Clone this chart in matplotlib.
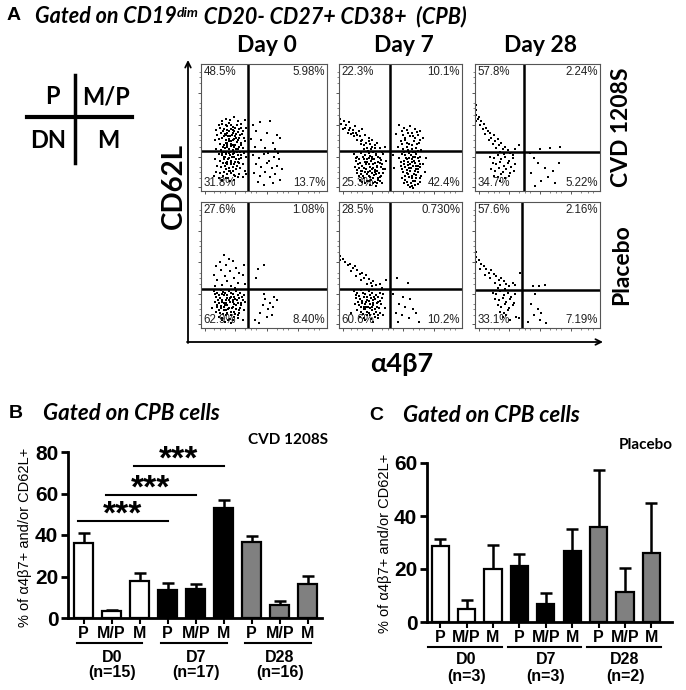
import matplotlib.pyplot as plt
import matplotlib.transforms as mtransforms
import numpy as np

# ---- data ----
# flow cytometry dots, % of panel width / height
day0_cvd = [(14,52),(17,55),(20,57),(23,56),(26,58),(29,55),(32,53),(35,56),
    (12,48),(15,50),(18,49),(21,51),(24,52),(27,50),(30,49),(33,47),(36,50),
    (13,44),(16,46),(19,45),(22,47),(25,46),(28,45),(31,44),(34,42),
    (11,40),(14,41),(17,42),(20,40),(23,43),(26,41),(29,40),(32,38),(35,39),
    (15,37),(18,36),(21,38),(24,37),(27,36),(30,35),(33,34),
    (12,33),(16,32),(19,34),(22,33),(25,32),(28,33),(31,31),(34,30),
    (14,29),(17,28),(20,29),(23,28),(26,27),(29,28),(32,26),(36,27),
    (11,25),(15,24),(18,25),(21,23),(24,24),(27,23),(30,22),(33,21),
    (13,20),(16,19),(19,20),(22,18),(25,19),(28,17),(31,18),(35,16),
    (12,15),(15,14),(18,15),(21,13),(24,14),(27,12),(30,13),(33,11),
    (14,10),(17,9),(20,10),(23,8),(26,9),(29,11),(10,12),(36,13),
    (20,44),(22,41),(24,39),(21,35),(23,31),(25,36),(19,27),(22,26),(24,21),
    (26,30),(20,22),(23,16),(18,31),(27,43),(25,48),(21,46),
    (16.5,53),(19.5,52),(22.5,53.5),(25.5,50.5),(28.5,52),(31.5,50),
    (17.5,47.5),(20.5,48),(23.5,49),(26.5,47.5),(29.5,46.5),(32.5,45),
    (18.5,43),(21.5,43.5),(24.5,44),(27.5,42),(30.5,41.5),(19.5,38),
    (22.5,39.5),(25.5,40.5),(28.5,38.5),(31.5,36.5),(17.5,35),(20.5,36.5),
    (23.5,35.5),(26.5,34.5),(29.5,33),(16.5,30),(19.5,31),(22.5,30),
    (25.5,29),(28.5,30.5),(31.5,28),(18.5,26.5),(21.5,25.5),(24.5,27),
    (27.5,25.5),(30.5,25),(17.5,22),(20.5,21),(23.5,22.5),(26.5,21.5),
    (29.5,23),(19.5,17),(22.5,15.5),(25.5,16),(28.5,19.5),(17.5,12),
    (21.5,10.5),(26.5,12.5),
    (41,52),(47,54),(55,55),(44,47),(52,46),(60,44),(40,41),(48,40),(57,38),
    (63,42),(43,35),(51,34),(59,33),(41,28),(46,26),(50,29),(54,24),(58,27),
    (62,25),(44,21),(48,19),(52,22),(56,18),(60,20),(64,17),(42,14),(47,12),
    (51,15),(55,11),(59,13),(63,9),(45,7),(50,5),(57,6),(53,30),(61,30)]
day7_cvd = [(1,57),(2,53),(4,55),(6,52),(3,49),(8,54),(9,50),(11,48),(7,46),
    (13,51),(14,46),(12,43),(16,47),(17,43),(19,49),(15,40),(19,40),(21,44),
    (22,38),(24,42),(20,36),(25,37),(27,40),(23,34),(26,33),(29,36),(31,38),
    (28,31),(33,34),(30,29),(35,31),(37,35),(18,37),(10,45),(5,50),
    (12,29),(15,27),(18,30),(21,28),(24,30),(27,27),(30,28),(33,26),(36,29),
    (14,24),(17,22),(20,25),(23,23),(26,24),(29,22),(32,23),(35,21),(38,24),
    (13,19),(16,18),(19,20),(22,17),(25,19),(28,18),(31,16),(34,19),(37,17),
    (15,14),(18,13),(21,15),(24,12),(27,14),(30,13),(33,11),(36,14),
    (17,9),(20,10),(23,8),(26,9),(29,7),(32,9),(35,6),(25,5),(30,4),
    (22,21),(25,16),(28,10),(31,20),(27,25),(24,26),(19,16),(29,15),
    (13.5,26),(16.5,25.5),(19.5,27),(22.5,25),(25.5,27.5),(28.5,25),
    (31.5,27),(34.5,24.5),(15.5,21),(18.5,19.5),(21.5,22.5),(24.5,21),
    (27.5,21.5),(30.5,19),(33.5,22),(14.5,16.5),(17.5,16),(20.5,18),
    (23.5,15),(26.5,17),(29.5,16.5),(32.5,14.5),(35.5,17.5),(16.5,11.5),
    (19.5,12),(22.5,13.5),(25.5,11),(28.5,12.5),(31.5,10.5),(34.5,12),
    (18.5,7),(21.5,6.5),(24.5,8),(27.5,6),(30.5,6.5),(33.5,8),(20.5,33),
    (23.5,31.5),(26.5,35),(29.5,33.5),(17.5,39),(14.5,44),(11.5,46),
    (8.5,48),(24.5,39.5),
    (49,52),(53,50),(58,51),(62,49),(66,47),(46,45),(52,44),(56,46),(60,43),
    (64,44),(68,42),(50,39),(54,40),(57,37),(61,39),(65,38),(48,35),(52,33),
    (55,35),(59,33),(63,34),(67,32),(51,29),(54,28),(57,30),(60,27),(63,29),
    (66,27),(49,26),(53,24),(56,23),(59,25),(62,22),(65,24),(68,21),
    (50,20),(54,19),(57,18),(60,20),(63,17),(66,19),(52,15),(55,14),(58,16),
    (61,13),(64,15),(67,12),(51,10),(54,9),(57,11),(60,8),(63,10),(66,7),
    (56,5),(59,4),(62,5),(45,18),(70,15),(44,28),(71,26),
    (58,21),(61,24),(55,25),(64,20),(59,12),(57,26),(62,31),
    (51.5,47),(55.5,48),(59.5,45.5),(63.5,46.5),(53.5,42),(57.5,43),
    (61.5,41.5),(65.5,40.5),(51.5,37),(55.5,38),(59.5,36),(63.5,37),
    (52.5,31),(56.5,32.5),(60.5,31),(64.5,31.5),(50.5,23),(54.5,26),
    (58.5,28),(61.5,27),(64.5,26),(52.5,21.5),(56.5,20.5),(59.5,22.5),
    (62.5,19.5),(65.5,21.5),(51.5,17),(55.5,16.5),(58.5,18.5),(61.5,16),
    (64.5,17.5),(53.5,12),(56.5,13),(59.5,10),(62.5,12.5),(65.5,10),
    (52.5,6.5),(55.5,7),(58.5,6),(61.5,7.5),(64.5,5.5),(57.5,3),(60.5,2.5)]
day28_cvd = [(0.5,68),(1,64),(1,60),(2,57),(0.5,55),(3,58),(5,55),(4,52),(7,53),
    (6,49),(9,50),(10,47),(8,45),(12,46),(13,42),(15,44),(11,40),(16,39),
    (18,41),(14,37),(19,36),(21,38),(17,34),(22,33),(24,35),(20,31),(26,32),
    (28,30),(23,29),(32,33),(35,36),(30,28),
    (12,27),(15,26),(18,28),(21,25),(24,27),(27,24),(30,26),(14,22),(17,21),
    (20,23),(23,20),(26,22),(29,19),(32,21),(13,17),(16,16),(19,18),(22,15),
    (25,17),(28,14),(31,16),(15,12),(18,11),(21,13),(24,10),(27,12),(20,8),
    (52,33),(60,34),(68,35),(44,30),(47,26),(50,22),(56,18),(62,16),(45,14),
    (58,11),(53,8),(64,6),(48,4),(67,22)]
day0_pla = [(18,58),(22,55),(15,52),(25,53),(12,49),(20,50),(28,48),(34,50),
    (16,46),(23,45),(30,44),(10,42),(19,41),(26,40),(33,42),(13,38),(21,37),
    (29,36),(17,34),(24,33),(35,35),(11,33),(27,32),
    (10,29),(13,28),(16,30),(19,28),(22,29),(25,27),(28,29),(31,28),(34,26),
    (12,25),(15,24),(18,26),(21,24),(24,25),(27,23),(30,24),(33,22),
    (11,21),(14,20),(17,22),(20,20),(23,21),(26,19),(29,20),(32,18),(35,21),
    (13,17),(16,16),(19,18),(22,16),(25,17),(28,15),(31,16),(34,14),
    (12,13),(15,12),(18,14),(21,12),(24,13),(27,11),(30,12),(9,16),
    (14,9),(17,8),(20,10),(23,7),(26,9),(29,8),(19,5),(24,4),(33,6),
    (18,20),(21,18),(23,24),(20,14),(25,22),(17,27),
    (11.5,27),(14.5,26),(17.5,28.5),(20.5,26),(23.5,27.5),(26.5,25),
    (29.5,26.5),(32.5,24.5),(13.5,22.5),(16.5,21),(19.5,22.5),(22.5,22),
    (25.5,20.5),(28.5,22),(31.5,20),(12.5,18.5),(15.5,17.5),(18.5,16.5),
    (21.5,15),(24.5,15.5),(27.5,18),(30.5,14),(14.5,14.5),(17.5,11),
    (20.5,11.5),(23.5,10),(26.5,13),(29.5,10.5),(16.5,6.5),(21.5,6),(25.5,6.5),
    (45,47),(50,50),(44,40),(58,25),(51,23),(55,20),(49,18),(53,15),(57,17),
    (47,12),(52,9),(56,10),(43,6),(60,22),(50,27),(46,4)]
day7_pla = [(0.5,57),(1,54),(3,55),(5,52),(7,50),(9,51),(11,48),(13,49),(10,45),
    (15,46),(17,43),(14,41),(19,44),(20,40),(22,42),(18,38),(24,39),(26,36),
    (23,35),(28,37),(30,34),(27,33),(33,35),(35,32),(38,38),
    (12,29),(15,28),(18,30),(21,27),(24,29),(27,28),(30,26),(33,28),(36,27),
    (14,24),(17,23),(20,25),(23,22),(26,24),(29,23),(32,21),(35,24),
    (13,19),(16,18),(19,20),(22,17),(25,19),(28,18),(31,17),(34,19),(37,16),
    (15,14),(18,13),(21,15),(24,12),(27,14),(30,13),(33,12),
    (17,9),(20,8),(23,10),(26,7),(29,9),(32,8),(10,12),(36,10),
    (22,21),(25,16),(28,22),(20,17),
    (13.5,26.5),(16.5,25.5),(19.5,27.5),(22.5,25),(25.5,26.5),(28.5,25),
    (31.5,24.5),(15.5,21),(18.5,21.5),(21.5,19),(24.5,21.5),(27.5,20),
    (30.5,19.5),(33.5,21.5),(17.5,16.5),(20.5,15),(23.5,17),(26.5,16.5),
    (29.5,15),(32.5,16),(19.5,11),(22.5,12.5),(25.5,10.5),(28.5,11),
    (31.5,10),(21.5,6),(27.5,5),
    (47,40),(56,36),(44,27),(52,25),(58,23),(49,19),(54,17),(60,15),(46,12),
    (51,10),(57,8),(63,12),(48,5),(65,5)]
day28_pla = [(0.5,60),(0.5,56),(1,52),(3,54),(5,51),(7,49),(4,47),(9,47),(11,44),
    (8,42),(13,46),(15,43),(12,40),(17,41),(19,38),(16,36),(21,40),(23,37),
    (20,34),(25,35),(27,33),(18,32),(24,31),(30,36),(32,34),(36,44),
    (14,28),(17,27),(20,29),(23,26),(26,28),(29,25),(32,27),(16,23),(19,22),
    (22,24),(25,21),(28,23),(31,20),(18,18),(21,17),(24,19),(27,16),(30,18),
    (20,13),(23,12),(26,14),(22,9),(25,10),(33,9),(28,6),(35,8),
    (46,33),(51,33),(56,34),(48,27),(45,19),(50,15),(53,12),(47,10),(52,6),
    (42,5),(57,4)]
flow_dots = [[day0_cvd, day7_cvd, day28_cvd], [day0_pla, day7_pla, day28_pla]]

gate_x = [[37.5, 41.5, 38.8], [37.5, 41.5, 37.5]]
gate_y = [[31.5, 31.5, 30.5], [31.0, 31.0, 30.0]]
pct_tl = [['48.5%', '22.3%', '57.8%'], ['27.6%', '28.5%', '57.6%']]
pct_tr = [['5.98%', '10.1%', '2.24%'], ['1.08%', '0.730%', '2.16%']]
pct_bl = [['31.8%', '25.3%', '34.7%'], ['62.9%', '60.6%', '33.1%']]
pct_br = [['13.7%', '42.4%', '5.22%'], ['8.40%', '10.2%', '7.19%']]
days = ['Day 0', 'Day 7', 'Day 28']
groups = ['CVD 1208S', 'Placebo']

# bar charts
subsets = ['P', 'M/P', 'M']
vax_days = ['D0', 'D7', 'D28']
vax_n = ['(n=15)', '(n=17)', '(n=16)']
vax_mean = [36.3, 3.2, 17.6, 13.6, 14.2, 53.2, 36.5, 6.3, 16.6]
vax_err = [4.5, 0.8, 4.0, 3.3, 2.4, 3.6, 3.2, 2.1, 3.8]
vax_sig = [(0, 3, 46.6), (1, 4, 59.1), (2, 5, 73.1)]
pla_n = ['(n=3)', '(n=3)', '(n=2)']
pla_mean = [28.5, 4.9, 20.1, 21.3, 6.8, 26.8, 35.7, 11.2, 25.9]
pla_err = [2.8, 3.5, 9.0, 4.2, 4.1, 8.3, 21.8, 9.3, 19.0]

W, H = 686, 690
CAL = ['Lato', 'Open Sans', 'DejaVu Sans']
ARI = ['Liberation Sans', 'DejaVu Sans']

fig = plt.figure(figsize=(W / 100, H / 100), dpi=100)
bg = fig.add_axes([0, 0, 1, 1])
bg.set_xlim(0, W)
bg.set_ylim(H, 0)
bg.axis('off')


def rect(x0, y0, x1, y1):
    return [x0 / W, 1 - y1 / H, (x1 - x0) / W, (y1 - y0) / H]


# ---- panel A ----
bg.text(7, 16, 'A', fontsize=14, fontweight='bold', family=ARI, va='center')
t1 = bg.text(35, 23, 'Gated on CD19', fontsize=15.5, fontweight='bold',
             style='italic', family=CAL, va='baseline')
t2 = bg.annotate('dim', xy=(1.0, 0.95), xycoords=t1, fontsize=10,
                 fontweight='bold', style='italic', family=CAL,
                 ha='left', va='top')
t3 = bg.annotate(' CD20- CD27+ CD38+  (CPB)', xy=(1.0, 0), xycoords=(t2, t1),
                 fontsize=15.5, fontweight='bold', style='italic', family=CAL,
                 ha='left', va='bottom')

# quadrant key
bg.plot([27, 132], [117, 117], color='black', lw=3)
bg.plot([75, 75], [75, 163], color='black', lw=2.5)
for s, (x, y) in zip(['P', 'M/P', 'DN', 'M'], [(52, 97), (106, 97), (48, 141), (108, 141)]):
    bg.text(x, y, s, fontsize=17, fontweight='bold', family=CAL,
            ha='center', va='center')

cols = [(201, 327), (339, 462), (475, 600)]
rows = [(64, 191), (202, 328)]
for r, (y0, y1) in enumerate(rows):
    for c, (x0, x1) in enumerate(cols):
        ax = fig.add_axes(rect(x0, y0, x1, y1))
        pts = np.array(flow_dots[r][c])
        ax.scatter(pts[:, 0], pts[:, 1], s=2.0, marker='s', color='black',
                   linewidths=0)
        ax.axvline(gate_x[r][c], color='black', lw=1.8)
        ax.axhline(gate_y[r][c], color='black', lw=1.8)
        ax.set_xlim(0, 100)
        ax.set_ylim(0, 100)
        for sp in ax.spines.values():
            sp.set_color('#555555')
            sp.set_linewidth(0.8)
        ax.set_xticks([3, 27, 52, 77])
        ax.set_yticks([3, 27, 52, 77])
        ax.set_xticks([10, 15, 19, 35, 40, 44, 60, 65, 69, 85, 90, 94], minor=True)
        ax.set_yticks([10, 15, 19, 35, 40, 44, 60, 65, 69, 85, 90, 94], minor=True)
        ax.tick_params(which='major', length=2.5, width=0.7, color='#555555',
                       labelbottom=False, labelleft=False)
        ax.tick_params(which='minor', length=1.3, width=0.5, color='#555555')
        kw = dict(fontsize=8.3, family=ARI, color='#222222', transform=ax.transAxes)
        ax.text(0.02, 0.985, pct_tl[r][c], ha='left', va='top', **kw)
        ax.text(0.985, 0.985, pct_tr[r][c], ha='right', va='top', **kw)
        ax.text(0.02, 0.015, pct_bl[r][c], ha='left', va='bottom', **kw)
        ax.text(0.985, 0.015, pct_br[r][c], ha='right', va='bottom', **kw)
        if r == 0:
            bg.text((x0 + x1) / 2 + 3, 46, days[c], fontsize=16.5,
                    fontweight='bold', family=CAL, ha='center', va='center')
    bg.text(622, (y0 + y1) / 2, groups[r], fontsize=16.5, fontweight='bold',
            family=CAL, rotation=90, ha='center', va='center')

bg.annotate('', xy=(188, 60), xytext=(188, 343),
            arrowprops=dict(arrowstyle='->', lw=1.3, color='black',
                            shrinkA=0, shrinkB=0))
bg.annotate('', xy=(603, 342), xytext=(187, 342),
            arrowprops=dict(arrowstyle='->', lw=1.3, color='black',
                            shrinkA=0, shrinkB=0))
bg.text(174, 186, 'CD62L', fontsize=20, fontweight='bold', family=CAL,
        rotation=90, ha='center', va='center')
bg.text(402, 364, 'α4β7', fontsize=19.5, fontweight='bold', family=CAL,
        ha='center', va='center')


# ---- panels B and C ----
def bar_panel(box, means, errs, ymax, yticks, xlim, width, ns, line_span,
              px_lab, px_line, px_day, px_n):
    ax = fig.add_axes(rect(*box))
    x = np.arange(len(means))
    colors = ['white'] * 3 + ['black'] * 3 + ['#808080'] * 3
    ax.bar(x, means, width=width, color=colors, edgecolor='black',
           linewidth=1.6, zorder=2)
    ax.errorbar(x, means, yerr=[np.zeros(len(errs)), errs], fmt='none',
                ecolor='black', elinewidth=1.8, capsize=4, capthick=1.8,
                zorder=1)
    ax.set_ylim(0, ymax)
    ax.set_xlim(*xlim)
    ax.set_yticks(yticks)
    ax.set_xticks(x)
    ax.set_xticklabels([])
    for side in ['top', 'right']:
        ax.spines[side].set_visible(False)
    for side in ['left', 'bottom']:
        ax.spines[side].set_linewidth(2)
    ax.tick_params(axis='y', length=5, width=2, labelsize=15, pad=2)
    ax.tick_params(axis='x', length=4, width=1.5)
    for lab in ax.get_yticklabels():
        lab.set_fontweight('bold')
        lab.set_family(ARI)
    tr = mtransforms.blended_transform_factory(ax.transData, bg.transData)
    for i in x:
        ax.text(i, px_lab, subsets[i % 3], transform=tr, ha='center',
                va='center', fontsize=11.5, fontweight='bold', family=ARI)
    for g in range(3):
        ax.plot([3 * g + line_span[0], 3 * g + line_span[1]], [px_line, px_line],
                transform=tr, color='black', lw=1.5, clip_on=False)
        ax.text(3 * g + 1, px_day, vax_days[g], transform=tr, ha='center',
                va='center', fontsize=11.5, fontweight='bold', family=ARI)
        ax.text(3 * g + 1, px_n, ns[g], transform=tr, ha='center',
                va='center', fontsize=11.5, fontweight='bold', family=ARI)
    return ax


axb = bar_panel((68, 452, 322, 618), vax_mean, vax_err, 80, [0, 20, 40, 60, 80],
                (-0.56, 8.51), 0.68, vax_n, (-0.25, 2.1), 633, 643, 657, 673)
for i, j, h in vax_sig:
    axb.plot([i - 0.2, j], [h, h], color='black', lw=1.5, clip_on=False)
    axb.text((i - 0.2 + j) / 2, h - 4.5, '***', ha='center', va='bottom',
             fontsize=24, fontweight='bold', family=ARI)
bg.text(25, 537, '% of α4β7+ and/or CD62L+', fontsize=10.5, family=ARI,
        rotation=90, ha='center', va='center')
bg.text(9, 413, 'B', fontsize=14, fontweight='bold', family=ARI, va='center')
bg.text(43, 413, 'Gated on CPB cells', fontsize=16, fontweight='bold',
        style='italic', family=CAL, va='center')
bg.text(328, 440, 'CVD 1208S', fontsize=11, fontweight='bold', family=CAL,
        ha='right', va='center')

axc = bar_panel((427, 463, 672, 622), pla_mean, pla_err, 60, [0, 20, 40, 60],
                (-0.5, 8.78), 0.65, pla_n, (-0.45, 2.35), 638, 647, 660, 677)
bg.text(385, 543, '% of α4β7+ and/or CD62L+', fontsize=10.5, family=ARI,
        rotation=90, ha='center', va='center')
bg.text(369, 415, 'C', fontsize=14, fontweight='bold', family=ARI, va='center')
bg.text(403, 415, 'Gated on CPB cells', fontsize=16, fontweight='bold',
        style='italic', family=CAL, va='center')
bg.text(673, 445, 'Placebo', fontsize=11, fontweight='bold', family=CAL,
        ha='right', va='center')

fig.savefig('out.png', dpi=100)
